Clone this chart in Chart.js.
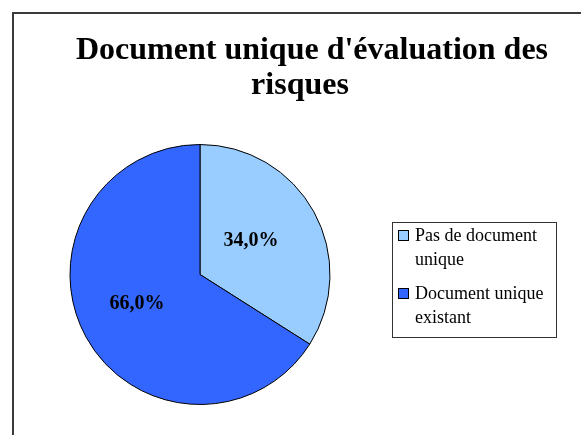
<!DOCTYPE html>
<html>
<head>
<meta charset="utf-8">
<script src="https://cdn.jsdelivr.net/npm/chart.js@4.4.1/dist/chart.umd.min.js"></script>
<style>
  html, body { margin: 0; padding: 0; background: #fff; }
  #wrap { position: relative; width: 581px; height: 435px; }
</style>
</head>
<body>
<div id="wrap"><canvas id="chart" width="581" height="435"></canvas></div>
<script>
const titleLines = ['Document unique d\'évaluation des', 'risques'];
const categories = ['Pas de document unique', 'Document unique existant'];
const shares = [34.0, 66.0];

const SERIF = '"Liberation Serif", "Times New Roman", Times, serif';

function pct(v) {
  return v.toFixed(1).replace('.', ',') + '%';
}

// split a label into lines that fit maxW
function wrap(ctx, text, maxW) {
  const words = text.split(' ');
  const lines = [];
  let cur = '';
  for (const w of words) {
    const test = cur ? cur + ' ' + w : w;
    if (cur && ctx.measureText(test).width > maxW) {
      lines.push(cur);
      cur = w;
    } else {
      cur = test;
    }
  }
  if (cur) lines.push(cur);
  return lines;
}

const decor = {
  id: 'decor',
  beforeDraw(chart) {
    const ctx = chart.ctx;
    ctx.save();
    ctx.strokeStyle = '#3a3a3a';
    ctx.lineWidth = 2;
    ctx.beginPath();
    ctx.moveTo(13, 440);
    ctx.lineTo(13, 13);
    ctx.lineTo(590, 13);
    ctx.stroke();
    ctx.restore();
  },
  afterDraw(chart) {
    const ctx = chart.ctx;
    const meta = chart.getDatasetMeta(0);
    const ds = chart.data.datasets[0];
    ctx.save();

    // title (Excel centres the two lines a little differently)
    ctx.fillStyle = '#000';
    ctx.font = 'bold 32px ' + SERIF;
    ctx.textAlign = 'center';
    ctx.textBaseline = 'alphabetic';
    ctx.fillText(titleLines[0], 312, 59);
    ctx.fillText(titleLines[1], 300, 94);

    // slice labels
    ctx.font = 'bold 20px ' + SERIF;
    ctx.textBaseline = 'middle';
    meta.data.forEach((arc, i) => {
      const p = arc.getCenterPoint();
      ctx.fillText(pct(ds.data[i]), p.x - 6, p.y - 2);
    });

    // legend
    ctx.strokeStyle = '#333';
    ctx.lineWidth = 1;
    ctx.strokeRect(392.5, 222.5, 164, 115);
    ctx.font = '18px ' + SERIF;
    ctx.textAlign = 'left';
    let y = 236;
    chart.data.labels.forEach((lab, i) => {
      ctx.fillStyle = ds.backgroundColor[i];
      ctx.fillRect(398.5, y - 5.5, 10, 10);
      ctx.strokeStyle = '#000';
      ctx.strokeRect(398.5, y - 5.5, 10, 10);
      ctx.fillStyle = '#000';
      const lines = wrap(ctx, lab, 136);
      lines.forEach((ln, j) => ctx.fillText(ln, 415, y + j * 24));
      y += lines.length * 24 + 10;
    });
    ctx.restore();
  }
};

new Chart(document.getElementById('chart'), {
  type: 'pie',
  data: {
    labels: categories,
    datasets: [{
      data: shares,
      backgroundColor: ['#99CCFF', '#3366FF'],
      borderColor: '#000',
      borderWidth: 1
    }]
  },
  options: {
    responsive: false,
    animation: false,
    layout: { padding: { left: 69.5, right: 250.5, top: 144, bottom: 30 } },
    plugins: {
      legend: { display: false },
      title: { display: false },
      tooltip: { enabled: false }
    }
  },
  plugins: [decor]
});
</script>
</body>
</html>
